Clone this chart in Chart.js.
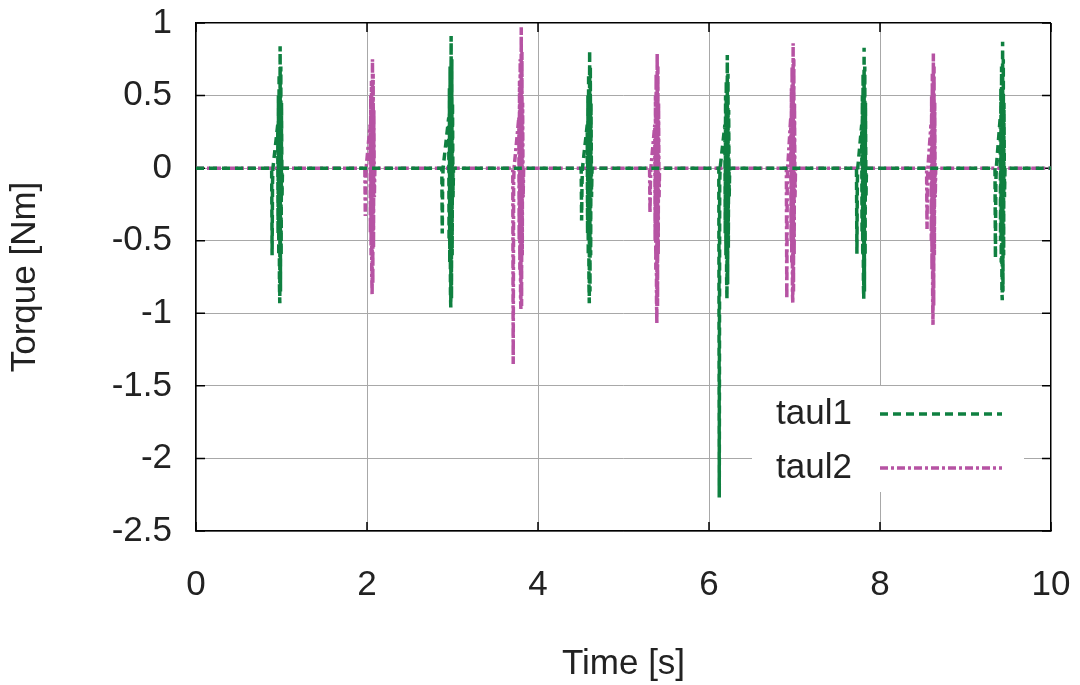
<!DOCTYPE html>
<html>
<head>
<meta charset="utf-8">
<script src="https://cdn.jsdelivr.net/npm/chart.js@4.4.1/dist/chart.umd.min.js"></script>
<style>
  body { margin: 0; background: #fff; }
  canvas { display: block; }
</style>
</head>
<body>
<canvas id="torqueChart" width="1080" height="685"></canvas>
<script>
// data
const xTicks = [0, 2, 4, 6, 8, 10];
const yTicks = [1, 0.5, 0, -0.5, -1, -1.5, -2, -2.5];

const taul1T = [0,
  0.885, 0.89, 0.895, 0.9, 0.956, 0.96, 0.964, 0.968, 0.972, 0.976, 0.98, 0.984, 0.988, 0.992, 0.996, 1.0, 1.006, 1.012,
  2.875, 2.88, 2.885, 2.89, 2.956, 2.96, 2.964, 2.968, 2.972, 2.976, 2.98, 2.984, 2.988, 2.992, 2.996, 3.0, 3.006, 3.012,
  4.505, 4.51, 4.515, 4.52, 4.576, 4.58, 4.584, 4.588, 4.592, 4.596, 4.6, 4.604, 4.608, 4.612, 4.616, 4.62, 4.626, 4.632,
  6.115, 6.12, 6.125, 6.13, 6.186, 6.19, 6.194, 6.198, 6.202, 6.206, 6.21, 6.214, 6.218, 6.222, 6.226, 6.23, 6.236, 6.242,
  7.725, 7.73, 7.735, 7.74, 7.786, 7.79, 7.794, 7.798, 7.802, 7.806, 7.81, 7.814, 7.818, 7.822, 7.826, 7.83, 7.836, 7.842,
  9.345, 9.35, 9.355, 9.36, 9.406, 9.41, 9.414, 9.418, 9.422, 9.426, 9.43, 9.434, 9.438, 9.442, 9.446, 9.45, 9.456, 9.462,
  10];
const taul1V = [0,
  0, -0.6, -0.1, 0, 0.3, -0.45, 0.5, -0.6, 0.65, -0.8, -0.93, 0.84, -0.85, 0.7, -0.6, 0.45, -0.2, 0,
  0, -0.45, -0.1, 0, 0.35, -0.5, 0.55, -0.65, 0.7, -0.85, -0.96, 0.91, -0.9, 0.75, -0.6, 0.45, -0.2, 0,
  0, -0.36, -0.1, 0, 0.3, -0.45, 0.5, -0.6, 0.65, -0.8, -0.93, 0.81, -0.85, 0.7, -0.6, 0.45, -0.2, 0,
  0, -2.27, -0.1, 0, 0.3, -0.45, 0.5, -0.6, 0.6, -0.75, -0.9, 0.78, -0.8, 0.65, -0.55, 0.4, -0.2, 0,
  0, -0.59, -0.1, 0, 0.3, -0.45, 0.5, -0.6, 0.65, -0.8, -0.9, 0.83, -0.85, 0.7, -0.6, 0.45, -0.2, 0,
  0, -0.62, -0.1, 0, 0.35, -0.5, 0.55, -0.65, 0.7, -0.85, -0.91, 0.87, -0.85, 0.75, -0.6, 0.45, -0.2, 0,
  0];

const taul2T = [0,
  1.975, 1.98, 1.985, 1.99, 2.036, 2.04, 2.044, 2.048, 2.052, 2.056, 2.06, 2.064, 2.068, 2.072, 2.076, 2.08, 2.086, 2.092,
  3.705, 3.71, 3.715, 3.72, 3.776, 3.78, 3.784, 3.788, 3.792, 3.796, 3.8, 3.804, 3.808, 3.812, 3.816, 3.82, 3.826, 3.832,
  5.305, 5.31, 5.315, 5.32, 5.366, 5.37, 5.374, 5.378, 5.382, 5.386, 5.39, 5.394, 5.398, 5.402, 5.406, 5.41, 5.416, 5.422,
  6.905, 6.91, 6.915, 6.92, 6.956, 6.96, 6.964, 6.968, 6.972, 6.976, 6.98, 6.984, 6.988, 6.992, 6.996, 7.0, 7.006, 7.012,
  8.545, 8.55, 8.555, 8.56, 8.596, 8.6, 8.604, 8.608, 8.612, 8.616, 8.62, 8.624, 8.628, 8.632, 8.636, 8.64, 8.646, 8.652,
  10];
const taul2V = [0,
  0, -0.33, -0.1, 0, 0.3, -0.45, 0.5, -0.6, 0.6, -0.75, -0.87, 0.75, -0.8, 0.65, -0.55, 0.4, -0.2, 0,
  0, -1.35, -0.1, 0, 0.35, -0.5, 0.6, -0.7, 0.75, -0.9, -0.97, 0.97, -0.95, 0.8, -0.6, 0.45, -0.2, 0,
  0, -0.31, -0.1, 0, 0.3, -0.5, 0.5, -0.7, 0.65, -0.9, -1.07, 0.79, -0.95, 0.7, -0.6, 0.45, -0.2, 0,
  0, -0.9, -0.1, 0, 0.35, -0.5, 0.55, -0.65, 0.7, -0.85, -0.93, 0.86, -0.85, 0.75, -0.6, 0.45, -0.2, 0,
  0, -0.42, -0.1, 0, 0.3, -0.5, 0.5, -0.7, 0.65, -0.9, -1.08, 0.79, -0.95, 0.7, -0.6, 0.45, -0.2, 0,
  0];

const GREEN = "#0f8040";
const MAGENTA = "#b653a3";
const DASH1 = [8, 5];
const DASH2 = [8, 3, 3, 3];
const FONT = "'Liberation Sans', Arial, Helvetica, sans-serif";

const toPoints = (ts, vs) => ts.map((t, i) => ({ x: t, y: vs[i] }));

// gnuplot style: small inward ticks on all four sides
const borderTicks = {
  id: "borderTicks",
  beforeDatasetsDraw(chart) {
    const { ctx, chartArea: a, scales } = chart;
    const len = 9;
    ctx.save();
    ctx.strokeStyle = "#000";
    ctx.lineWidth = 1.5;
    ctx.beginPath();
    xTicks.forEach((v) => {
      const px = scales.x.getPixelForValue(v);
      ctx.moveTo(px, a.bottom);
      ctx.lineTo(px, a.bottom - len);
      ctx.moveTo(px, a.top);
      ctx.lineTo(px, a.top + len);
    });
    yTicks.forEach((v) => {
      const py = scales.y.getPixelForValue(v);
      ctx.moveTo(a.left, py);
      ctx.lineTo(a.left + len, py);
      ctx.moveTo(a.right, py);
      ctx.lineTo(a.right - len, py);
    });
    ctx.stroke();
    ctx.restore();
  },
};

// legend box inside plot, lower right
const insideLegend = {
  id: "insideLegend",
  afterDatasetsDraw(chart) {
    const { ctx } = chart;
    const items = [
      { label: "taul1", color: GREEN, dash: DASH1, y: 414 },
      { label: "taul2", color: MAGENTA, dash: DASH2, y: 468 },
    ];
    ctx.save();
    ctx.fillStyle = "#fff";
    ctx.fillRect(752, 386, 272, 106);
    ctx.font = "35px " + FONT;
    ctx.textBaseline = "middle";
    ctx.textAlign = "left";
    items.forEach((it) => {
      ctx.fillStyle = "#222";
      ctx.fillText(it.label, 776, it.y);
      ctx.strokeStyle = it.color;
      ctx.lineWidth = 3.5;
      ctx.setLineDash(it.dash);
      ctx.beginPath();
      ctx.moveTo(880, it.y);
      ctx.lineTo(1002, it.y);
      ctx.stroke();
    });
    ctx.restore();
  },
};

new Chart(document.getElementById("torqueChart"), {
  type: "line",
  data: {
    datasets: [
      {
        label: "taul1",
        data: toPoints(taul1T, taul1V),
        borderColor: GREEN,
        borderWidth: 3.5,
        borderDash: DASH1,
        pointRadius: 0,
        tension: 0,
      },
      {
        label: "taul2",
        data: toPoints(taul2T, taul2V),
        borderColor: MAGENTA,
        borderWidth: 3.5,
        borderDash: DASH2,
        pointRadius: 0,
        tension: 0,
      },
    ],
  },
  options: {
    responsive: false,
    animation: false,
    layout: { padding: { top: 23, right: 29, left: 0, bottom: 0 } },
    plugins: {
      legend: { display: false },
      tooltip: { enabled: false },
    },
    scales: {
      x: {
        type: "linear",
        min: 0,
        max: 10,
        afterBuildTicks: (s) => { s.ticks = xTicks.map((v) => ({ value: v })); },
        afterFit: (s) => {
          s.height = 154;
          s.paddingLeft = 0;
          s.paddingRight = 0;
        },
        ticks: {
          color: "#222",
          font: { family: FONT, size: 35 },
          padding: 33,
          callback: (v) => String(v),
        },
        grid: {
          drawTicks: false,
          color: (c) => (c.tick && c.tick.value === 10 ? "#000" : "#a8a8a8"),
          lineWidth: (c) => (c.tick && c.tick.value === 10 ? 1.5 : 1),
        },
        border: { color: "#000", width: 1.5 },
        title: {
          display: true,
          text: "Time [s]",
          color: "#222",
          font: { family: FONT, size: 35 },
          padding: { top: 2, bottom: 0 },
        },
      },
      y: {
        min: -2.5,
        max: 1,
        afterBuildTicks: (s) => { s.ticks = yTicks.map((v) => ({ value: v })); },
        afterFit: (s) => {
          s.width = 196;
          s.paddingTop = 0;
          s.paddingBottom = 0;
        },
        ticks: {
          color: "#222",
          font: { family: FONT, size: 35 },
          padding: 24,
          callback: (v) => String(v),
        },
        grid: {
          drawTicks: false,
          color: (c) => (c.tick && c.tick.value === 1 ? "#000" : "#a8a8a8"),
          lineWidth: (c) => (c.tick && c.tick.value === 1 ? 1.5 : 1),
        },
        border: { color: "#000", width: 1.5 },
        title: {
          display: true,
          text: "Torque [Nm]",
          color: "#222",
          font: { family: FONT, size: 35 },
          padding: { top: 4, bottom: 0 },
        },
      },
    },
  },
  plugins: [borderTicks, insideLegend],
});
</script>
</body>
</html>
